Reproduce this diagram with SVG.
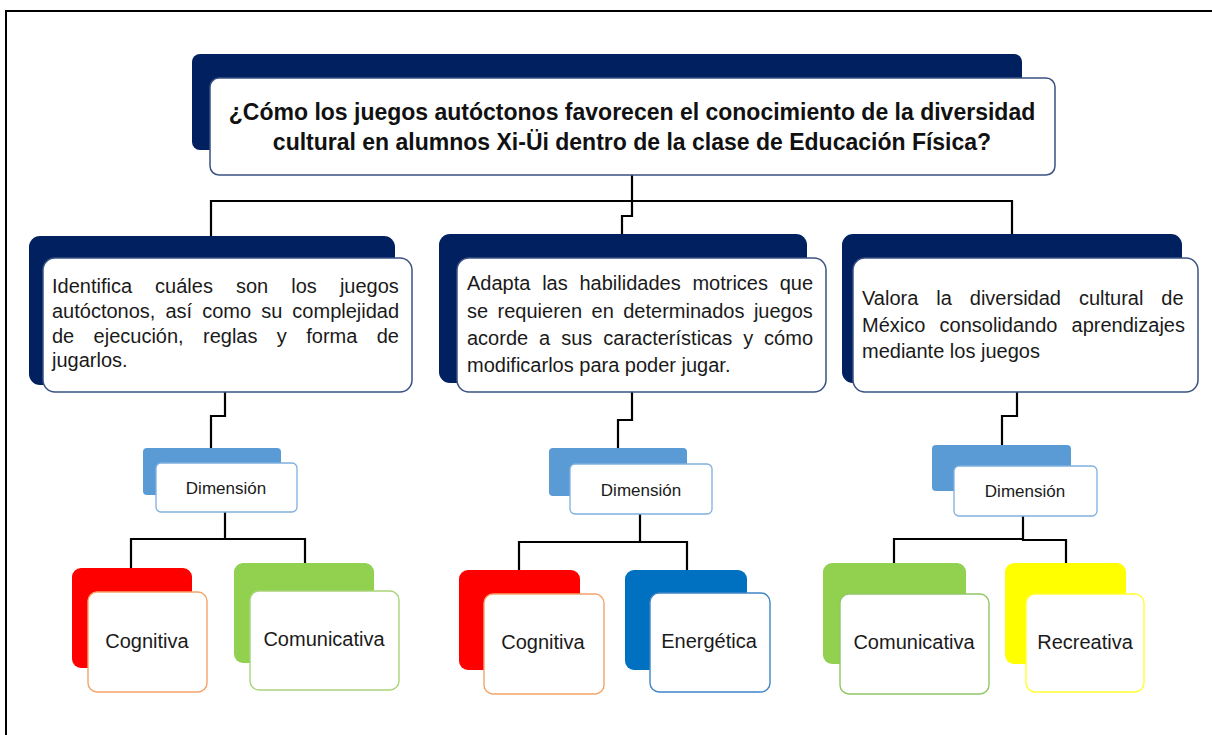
<svg xmlns="http://www.w3.org/2000/svg" width="1212" height="735" viewBox="0 0 1212 735">
<style>
text{font-family:"Liberation Sans",Arial,sans-serif;fill:#1a1a1a}
.navy{fill:#002060}
.fw{fill:#ffffff;stroke:#3b5282;stroke-width:1.5}
.q{font-size:23px;font-weight:bold;text-anchor:middle;fill:#111}
.b{font-size:20px}
.dim{font-size:17px;text-anchor:middle}
.leaf{font-size:20px;text-anchor:middle}
.con{fill:none;stroke:#000;stroke-width:2.2}
</style>
<rect x="0" y="0" width="1212" height="735" fill="#ffffff"/>
<rect x="6" y="11" width="1230" height="740" fill="none" stroke="#000" stroke-width="2"/>

<g id="connectors">
<path class="con" d="M632 175V201M211 236V201H1012V234M632 201V216H622V234"/>
<path class="con" d="M225 392V416H211V448M225 512V539M131 568V539H305V563"/>
<path class="con" d="M632 392V420H618V448M640 514V542M519 570V542H687V570"/>
<path class="con" d="M1017 392V416H1002V445M1023 516V539M894 563V539H1023M1023 539V540H1066V563"/>
</g>

<g id="top">
<rect class="navy" x="192" y="54" width="830" height="96" rx="8"/>
<rect class="fw" x="210" y="78" width="845" height="97" rx="9"/>
<text class="q" x="632" y="120">¿Cómo los juegos autóctonos favorecen el conocimiento de la diversidad</text>
<text class="q" x="632" y="150">cultural en alumnos Xi-Üi dentro de la clase de Educación Física?</text>
</g>

<g id="obj1">
<rect class="navy" x="29" y="236" width="366" height="149" rx="11"/>
<rect class="fw" x="43" y="258" width="369" height="134" rx="12"/>
<text class="b" x="52" y="293" word-spacing="17.5">Identifica cuáles son los juegos</text>
<text class="b" x="52" y="318" word-spacing="4.5">autóctonos, así como su complejidad</text>
<text class="b" x="52" y="343" word-spacing="13.8">de ejecución, reglas y forma de</text>
<text class="b" x="52" y="367">jugarlos.</text>
</g>

<g id="obj2">
<rect class="navy" x="439" y="234" width="368" height="149" rx="11"/>
<rect class="fw" x="457" y="258" width="369" height="134" rx="12"/>
<text class="b" x="467" y="290" word-spacing="6.2">Adapta las habilidades motrices que</text>
<text class="b" x="467" y="318" word-spacing="3.9">se requieren en determinados juegos</text>
<text class="b" x="467" y="345" word-spacing="5.4">acorde a sus características y cómo</text>
<text class="b" x="467" y="372">modificarlos para poder jugar.</text>
</g>

<g id="obj3">
<rect class="navy" x="842" y="234" width="340" height="149" rx="11"/>
<rect class="fw" x="853" y="258" width="345" height="134" rx="12"/>
<text class="b" x="862" y="305" word-spacing="12.4">Valora la diversidad cultural de</text>
<text class="b" x="862" y="332" word-spacing="8.6">México consolidando aprendizajes</text>
<text class="b" x="862" y="358">mediante los juegos</text>
</g>

<g id="dim1">
<rect x="143" y="448" width="138" height="47" rx="4" fill="#5b9bd5"/>
<rect x="156" y="463" width="141" height="49" rx="5" fill="#fff" stroke="#7fb0e0" stroke-width="1.3"/>
<text class="dim" x="226" y="494">Dimensión</text>
</g>
<g id="dim2">
<rect x="549" y="448" width="138" height="48" rx="4" fill="#5b9bd5"/>
<rect x="570" y="464" width="142" height="50" rx="5" fill="#fff" stroke="#7fb0e0" stroke-width="1.3"/>
<text class="dim" x="641" y="496">Dimensión</text>
</g>
<g id="dim3">
<rect x="932" y="445" width="139" height="46" rx="4" fill="#5b9bd5"/>
<rect x="954" y="466" width="143" height="50" rx="5" fill="#fff" stroke="#7fb0e0" stroke-width="1.3"/>
<text class="dim" x="1025" y="497">Dimensión</text>
</g>

<g id="cog1">
<rect x="72" y="568" width="120" height="100" rx="9" fill="#ff0000"/>
<rect x="88" y="592" width="119" height="100" rx="9" fill="#fff" stroke="#f4a46a" stroke-width="1.4"/>
<text class="leaf" x="147" y="648">Cognitiva</text>
</g>
<g id="com1">
<rect x="234" y="563" width="140" height="100" rx="9" fill="#92d050"/>
<rect x="250" y="591" width="149" height="99" rx="9" fill="#fff" stroke="#a9d47a" stroke-width="1.4"/>
<text class="leaf" x="324" y="646">Comunicativa</text>
</g>
<g id="cog2">
<rect x="459" y="570" width="121" height="100" rx="9" fill="#ff0000"/>
<rect x="484" y="594" width="120" height="100" rx="9" fill="#fff" stroke="#f4a46a" stroke-width="1.4"/>
<text class="leaf" x="543" y="649">Cognitiva</text>
</g>
<g id="ene">
<rect x="625" y="570" width="122" height="100" rx="9" fill="#0070c0"/>
<rect x="650" y="593" width="120" height="99" rx="9" fill="#fff" stroke="#3d85c6" stroke-width="1.4"/>
<text class="leaf" x="709" y="648">Energética</text>
</g>
<g id="com2">
<rect x="823" y="563" width="143" height="101" rx="9" fill="#92d050"/>
<rect x="840" y="594" width="149" height="100" rx="9" fill="#fff" stroke="#8fc765" stroke-width="1.4"/>
<text class="leaf" x="914" y="649">Comunicativa</text>
</g>
<g id="rec">
<rect x="1005" y="563" width="121" height="101" rx="9" fill="#ffff00"/>
<rect x="1026" y="594" width="118" height="98" rx="9" fill="#fff" stroke="#ffff33" stroke-width="1.4"/>
<text class="leaf" x="1085" y="649">Recreativa</text>
</g>
</svg>
